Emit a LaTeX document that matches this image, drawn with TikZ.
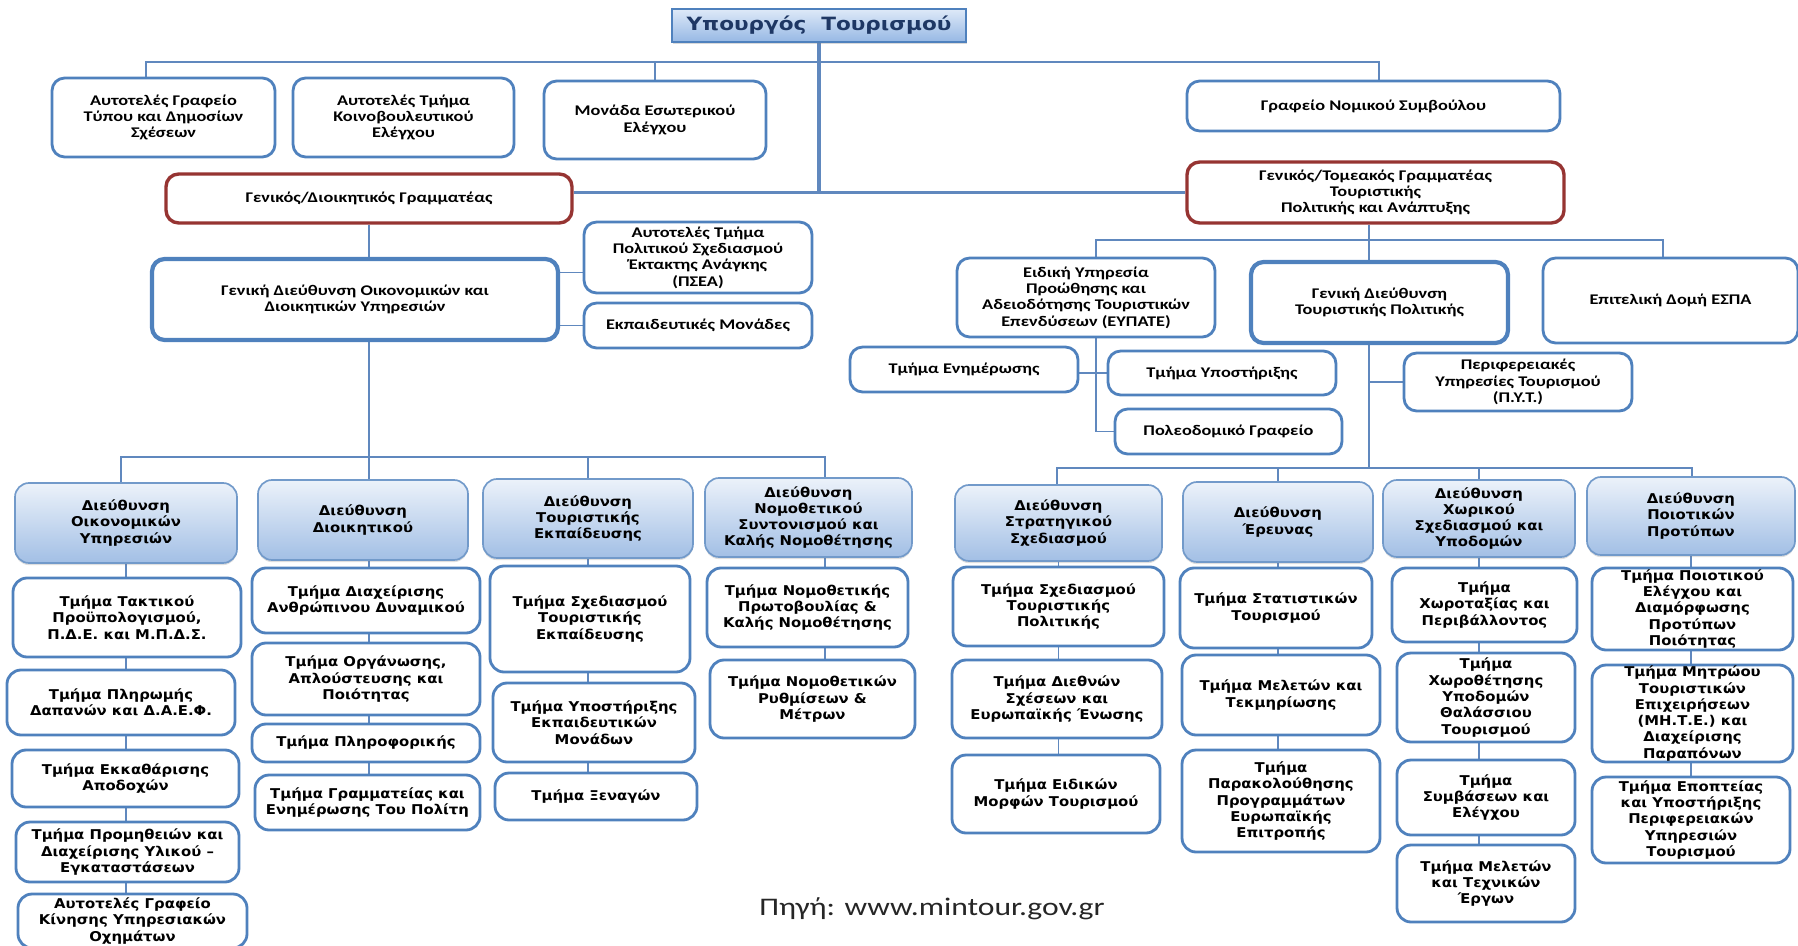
\documentclass[tikz,border=0pt]{standalone}
\usepackage{fontspec}
\usepackage{xcolor}
\usetikzlibrary{backgrounds,shadows,calc}
\newfontfamily\topfont[FakeStretch=1.24]{Carlito}
\newfontfamily\lowfont[FakeStretch=1.1]{DejaVu Sans}
\newfontfamily\minfont[FakeStretch=1.18]{DejaVu Sans}
\newfontfamily\srcfont[FakeStretch=1.25]{Carlito}
\definecolor{boxblue}{RGB}{79,129,189}
\definecolor{linkblue}{RGB}{96,136,190}
\definecolor{secred}{RGB}{150,52,50}
\definecolor{dirtop}{RGB}{236,242,250}
\definecolor{dirbot}{RGB}{162,191,229}
\definecolor{mintop}{RGB}{222,233,248}
\definecolor{minbot}{RGB}{150,184,228}
\definecolor{mintext}{RGB}{30,55,100}

\tikzset{
  boxsize/.style 2 args={minimum width=#1*0.025cm,minimum height=#2*0.025cm},
  topbox/.style={draw=boxblue,line width=2pt,rounded corners=9pt,fill=white,align=center,inner sep=0pt,
    font=\topfont\bfseries\fontsize{10.5}{11.6}\selectfont},
  gdbox/.style={topbox,line width=3pt},
  redbox/.style={topbox,draw=secred,line width=2.4pt},
  minbox/.style={draw=boxblue,line width=1.2pt,top color=mintop,bottom color=minbot,align=center,inner sep=0pt,
    drop shadow={opacity=0.3,shadow xshift=1pt,shadow yshift=-1.5pt},text=mintext,
    font=\minfont\bfseries\fontsize{13}{15}\selectfont},
  dirbox/.style={draw=boxblue!80,line width=1.2pt,rounded corners=10pt,top color=dirtop,bottom color=dirbot,
    align=center,inner sep=0pt,drop shadow={opacity=0.25,shadow xshift=0pt,shadow yshift=-1.5pt},
    font=\lowfont\bfseries\fontsize{9.6}{11.6}\selectfont},
  unitbox/.style={draw=boxblue,line width=2pt,rounded corners=10pt,fill=white,align=center,inner sep=0pt,
    font=\lowfont\bfseries\fontsize{9.6}{11.6}\selectfont},
  link/.style={draw=linkblue,line width=1.4pt},
  thick link/.style={line width=2.2pt},
  srctext/.style={inner sep=0pt,text=black!85,font=\srcfont\fontsize{18}{21}\selectfont}
}

\begin{document}
\begin{tikzpicture}[x=0.025cm,y=-0.025cm]
\useasboundingbox (0,0) rectangle (1798,946);

% minister and offices
\node[minbox,boxsize={294}{33}] (minister) at (819,25.5) {Υπουργός\ \ Τουρισμού};
\node[topbox,boxsize={223}{79}] (grafTypou) at (163.5,117.5) {Αυτοτελές Γραφείο\\Τύπου και Δημοσίων\\Σχέσεων};
\node[topbox,boxsize={221}{79}] (koinElegchou) at (403.5,117.5) {Αυτοτελές Τμήμα\\Κοινοβουλευτικού\\Ελέγχου};
\node[topbox,boxsize={222}{78}] (esElegchou) at (655,120) {Μονάδα Εσωτερικού\\Ελέγχου};
\node[topbox,boxsize={373}{50}] (nomSymv) at (1373.5,106) {Γραφείο Νομικού Συμβούλου};

% secretaries
\node[redbox,boxsize={406}{49}] (gsDioik) at (369,198.5) {Γενικός/Διοικητικός Γραμματέας};
\node[redbox,boxsize={377}{61}] (gsTour) at (1375.5,192.5) {Γενικός/Τομεακός Γραμματέας\\Τουριστικής\\Πολιτικής και Ανάπτυξης};

% left general directorate
\node[gdbox,boxsize={406}{81}] (gdOik) at (355,299.5) {Γενική Διεύθυνση Οικονομικών και\\Διοικητικών Υπηρεσιών};
\node[topbox,boxsize={228}{71}] (psea) at (698,257.5) {Αυτοτελές Τμήμα\\Πολιτικού Σχεδιασμού\\Έκτακτης Ανάγκης\\(ΠΣΕΑ)};
\node[topbox,boxsize={228}{45}] (ekpMon) at (698,325.5) {Εκπαιδευτικές Μονάδες};

% right general directorate
\node[topbox,boxsize={258}{79}] (eypate) at (1086,297.5) {Ειδική Υπηρεσία\\Προώθησης και\\Αδειοδότησης Τουριστικών\\Επενδύσεων (ΕΥΠΑΤΕ)};
\node[gdbox,boxsize={257}{81}] (gdTour) at (1379.5,302.5) {Γενική Διεύθυνση\\Τουριστικής Πολιτικής};
\node[topbox,boxsize={255}{85}] (espa) at (1670.5,300.5) {Επιτελική Δομή ΕΣΠΑ};
\node[topbox,boxsize={228}{45}] (enimerosis) at (964,369.5) {Τμήμα Ενημέρωσης};
\node[topbox,boxsize={228}{44}] (ypostirixis) at (1222,373) {Τμήμα Υποστήριξης};
\node[topbox,boxsize={227}{45}] (poleod) at (1228.5,431.5) {Πολεοδομικό Γραφείο};
\node[topbox,boxsize={228}{58}] (pyt) at (1518,382) {Περιφερειακές\\Υπηρεσίες Τουρισμού\\(Π.Υ.Τ.)};

% directorates, left
\node[dirbox,boxsize={222}{80}] (dirOik) at (126,523) {Διεύθυνση\\Οικονομικών\\Υπηρεσιών};
\node[dirbox,boxsize={210}{80}] (dirDioik) at (363,520) {Διεύθυνση\\Διοικητικού};
\node[dirbox,boxsize={210}{79}] (dirEkp) at (588,518.5) {Διεύθυνση\\Τουριστικής\\Εκπαίδευσης};
\node[dirbox,boxsize={207}{79}] (dirNomoth) at (808.5,517.5) {Διεύθυνση\\Νομοθετικού\\Συντονισμού και\\Καλής Νομοθέτησης};

\node[unitbox,boxsize={228}{79}] (t11) at (127,617.5) {Τμήμα Τακτικού\\Προϋπολογισμού,\\Π.Δ.Ε. και Μ.Π.Δ.Σ.};
\node[unitbox,boxsize={228}{65}] (t12) at (121,702.5) {Τμήμα Πληρωμής\\Δαπανών και Δ.Α.Ε.Φ.};
\node[unitbox,boxsize={227}{57}] (t13) at (125.5,778.5) {Τμήμα Εκκαθάρισης\\Αποδοχών};
\node[unitbox,boxsize={223}{60}] (t14) at (127.5,852) {Τμήμα Προμηθειών και\\Διαχείρισης Υλικού –\\Εγκαταστάσεων};
\node[unitbox,boxsize={229}{54}] (t15) at (132.5,921) {Αυτοτελές Γραφείο\\Κίνησης Υπηρεσιακών\\Οχημάτων};

\node[unitbox,boxsize={228}{65}] (t21) at (366,600.5) {Τμήμα Διαχείρισης\\Ανθρώπινου Δυναμικού};
\node[unitbox,boxsize={228}{72}] (t22) at (366,679) {Τμήμα Οργάνωσης,\\Απλούστευσης και\\Ποιότητας};
\node[unitbox,boxsize={228}{38}] (t23) at (366,743) {Τμήμα Πληροφορικής};
\node[unitbox,boxsize={225}{55}] (t24) at (367.5,802.5) {Τμήμα Γραμματείας και\\Ενημέρωσης Του Πολίτη};

\node[unitbox,boxsize={200}{106}] (t31) at (590,619) {Τμήμα Σχεδιασμού\\Τουριστικής\\Εκπαίδευσης};
\node[unitbox,boxsize={202}{79}] (t32) at (594,722.5) {Τμήμα Υποστήριξης\\Εκπαιδευτικών\\Μονάδων};
\node[unitbox,boxsize={202}{47}] (t33) at (596,796.5) {Τμήμα Ξεναγών};

\node[unitbox,boxsize={201}{79}] (t41) at (807.5,607.5) {Τμήμα Νομοθετικής\\Πρωτοβουλίας \&\\Καλής Νομοθέτησης};
\node[unitbox,boxsize={205}{78}] (t42) at (812.5,699) {Τμήμα Νομοθετικών\\Ρυθμίσεων \&\\Μέτρων};

% directorates, right
\node[dirbox,boxsize={207}{76}] (dirStrat) at (1058.5,523) {Διεύθυνση\\Στρατηγικού\\Σχεδιασμού};
\node[dirbox,boxsize={190}{80}] (dirEreun) at (1278,522) {Διεύθυνση\\Έρευνας};
\node[dirbox,boxsize={192}{77}] (dirChor) at (1479,518.5) {Διεύθυνση\\Χωρικού\\Σχεδιασμού και\\Υποδομών};
\node[dirbox,boxsize={208}{78}] (dirPoiot) at (1691,516) {Διεύθυνση\\Ποιοτικών\\Προτύπων};

\node[unitbox,boxsize={211}{79}] (t51) at (1058.5,606.5) {Τμήμα Σχεδιασμού\\Τουριστικής\\Πολιτικής};
\node[unitbox,boxsize={210}{78}] (t52) at (1057,699) {Τμήμα Διεθνών\\Σχέσεων και\\Ευρωπαϊκής Ένωσης};
\node[unitbox,boxsize={208}{78}] (t53) at (1056,794) {Τμήμα Ειδικών\\Μορφών Τουρισμού};

\node[unitbox,boxsize={192}{80}] (t61) at (1276,608) {Τμήμα Στατιστικών\\Τουρισμού};
\node[unitbox,boxsize={198}{80}] (t62) at (1281,695) {Τμήμα Μελετών και\\Τεκμηρίωσης};
\node[unitbox,boxsize={198}{102}] (t63) at (1281,801) {Τμήμα\\Παρακολούθησης\\Προγραμμάτων\\Ευρωπαϊκής\\Επιτροπής};

\node[unitbox,boxsize={185}{74}] (t71) at (1484.5,605) {Τμήμα\\Χωροταξίας και\\Περιβάλλοντος};
\node[unitbox,boxsize={178}{89}] (t72) at (1486,697.5) {Τμήμα\\Χωροθέτησης\\Υποδομών\\Θαλάσσιου\\Τουρισμού};
\node[unitbox,boxsize={178}{75}] (t73) at (1486,797.5) {Τμήμα\\Συμβάσεων και\\Ελέγχου};
\node[unitbox,boxsize={178}{77}] (t74) at (1486,883.5) {Τμήμα Μελετών\\και Τεχνικών\\Έργων};

\node[unitbox,boxsize={201}{82}] (t81) at (1692.5,609) {Τμήμα Ποιοτικού\\Ελέγχου και\\Διαμόρφωσης\\Προτύπων\\Ποιότητας};
\node[unitbox,boxsize={201}{97}] (t82) at (1692.5,713.5) {Τμήμα Μητρώου\\Τουριστικών\\Επιχειρήσεων\\(ΜΗ.Τ.Ε.) και\\Διαχείρισης\\Παραπόνων};
\node[unitbox,boxsize={198}{86}] (t83) at (1691,820) {Τμήμα Εποπτείας\\και Υποστήριξης\\Περιφερειακών\\Υπηρεσιών\\Τουρισμού};

\node[srctext] (source) at (932,909) {Πηγή: www.mintour.gov.gr};

% connectors
\begin{pgfonlayer}{background}
\coordinate (tbusW) at (146,62);
\coordinate (tbusE) at (1379,62);
\draw[link] (grafTypou.north -| tbusW) -- (tbusW) -- (tbusE) -- (nomSymv.north -| tbusE);
\draw[link] (esElegchou.north) -- (esElegchou |- tbusW);
\draw[link,thick link] (minister) -- (minister |- gsTour.west);
\draw[link,thick link] (gsDioik.east |- gsTour.west) -- (gsTour.west);

\coordinate (lbusW) at (121,457);
\coordinate (lbusE) at (825,457);
\draw[link] (gsDioik) -- (gsDioik |- t24.north);
\draw[link] ($(psea.west)+(0,15)$) -- ($(psea.west -| gdOik.east)+(0,15)$);
\draw[link] (ekpMon.west) -- (ekpMon.west -| gdOik.east);
\draw[link] (dirOik.north -| lbusW) -- (lbusW) -- (lbusE) -- (dirNomoth.north -| lbusE);
\draw[link] (dirEkp.north) -- (dirEkp |- lbusW);
\draw[link] (dirOik) -- (dirOik |- t15.north);
\draw[link] (dirEkp) -- (dirEkp |- t33.north);
\draw[link] (dirNomoth.south -| lbusE) -- (t42.north -| lbusE);

\coordinate (rbusW) at (1096,240);
\coordinate (rbusE) at (1663,240);
\coordinate (rlbus) at (1369,468);
\coordinate (rlbusW) at (1057,468);
\coordinate (rlbusE) at (1692,468);
\draw[link] (gsTour.south -| rlbus) -- (rlbus);
\draw[link] (eypate.north -| rbusW) -- (rbusW) -- (rbusE) -- (espa.north -| rbusE);
\draw[link] (eypate.south -| rbusW) -- (poleod.west -| rbusW) -- (poleod.west);
\draw[link] (enimerosis.east |- ypostirixis.west) -- (ypostirixis.west);
\draw[link] (pyt.west) -- (pyt.west -| rlbus);
\draw[link] (dirStrat.north -| rlbusW) -- (rlbusW) -- (rlbusE) -- (dirPoiot.north -| rlbusE);
\draw[link] (dirEreun.north) -- (dirEreun |- rlbus);
\draw[link] (dirChor.north) -- (dirChor |- rlbus);
\draw[link] (dirStrat) -- (dirStrat |- t53.north);
\draw[link] (dirEreun) -- (dirEreun |- t63.north);
\draw[link] (dirChor) -- (dirChor |- t74.north);
\draw[link] (dirPoiot) -- (dirPoiot |- t83.north);
\end{pgfonlayer}
\end{tikzpicture}
\end{document}
